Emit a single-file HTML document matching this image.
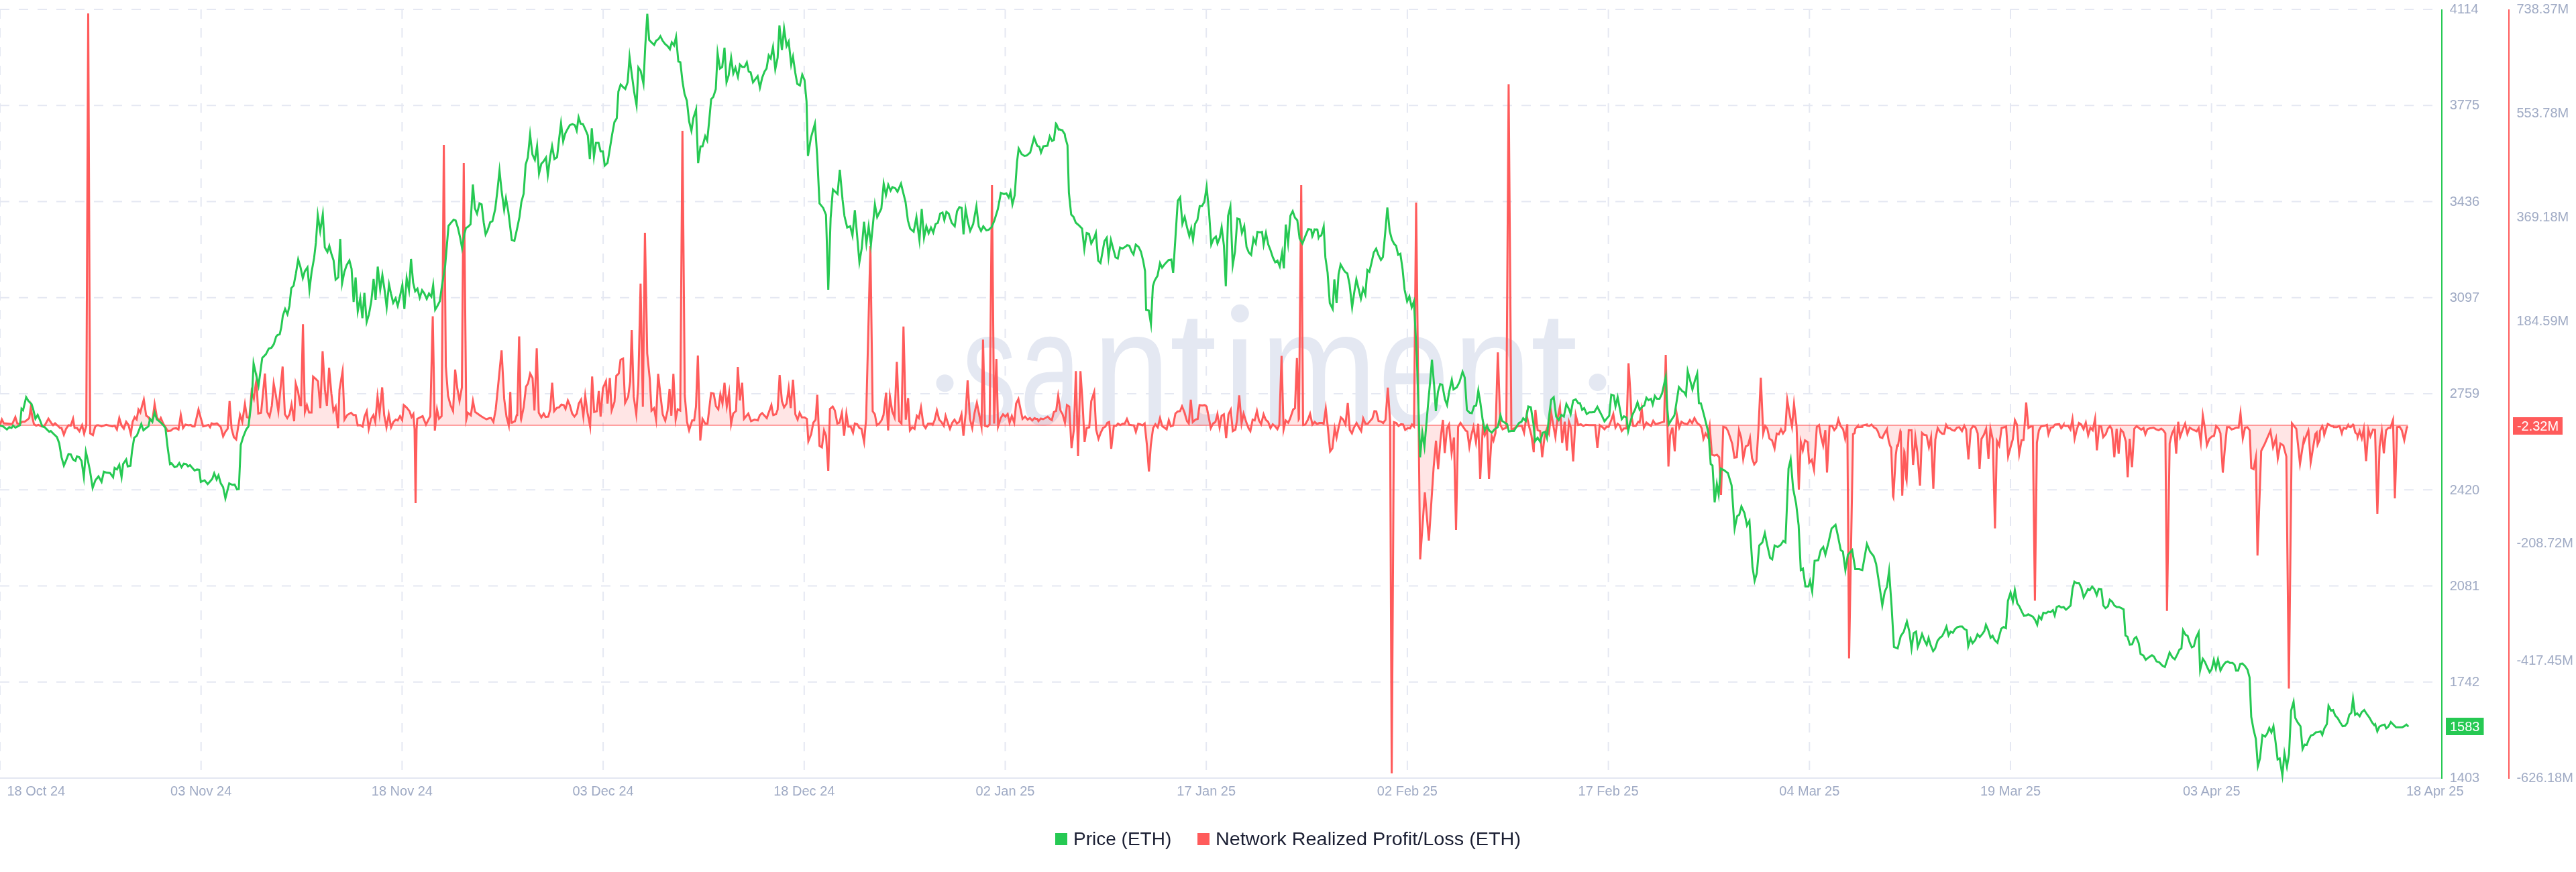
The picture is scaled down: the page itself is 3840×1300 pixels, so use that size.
<!DOCTYPE html>
<html><head><meta charset="utf-8"><title>Chart</title>
<style>html,body{margin:0;padding:0;background:#fff;}body{width:3840px;height:1300px;overflow:hidden;position:relative;font-family:"Liberation Sans",sans-serif;}</style>
</head><body>
<svg width="3840" height="1300" viewBox="0 0 3840 1300" style="position:absolute;left:0;top:0;display:block;will-change:transform">
<line x1="0" y1="14.0" x2="3626" y2="14.0" stroke="#e5e8f2" stroke-width="2" stroke-dasharray="14 14"/>
<line x1="0" y1="157.2" x2="3626" y2="157.2" stroke="#e5e8f2" stroke-width="2" stroke-dasharray="14 14"/>
<line x1="0" y1="300.5" x2="3626" y2="300.5" stroke="#e5e8f2" stroke-width="2" stroke-dasharray="14 14"/>
<line x1="0" y1="443.8" x2="3626" y2="443.8" stroke="#e5e8f2" stroke-width="2" stroke-dasharray="14 14"/>
<line x1="0" y1="587.0" x2="3626" y2="587.0" stroke="#e5e8f2" stroke-width="2" stroke-dasharray="14 14"/>
<line x1="0" y1="730.2" x2="3626" y2="730.2" stroke="#e5e8f2" stroke-width="2" stroke-dasharray="14 14"/>
<line x1="0" y1="873.5" x2="3626" y2="873.5" stroke="#e5e8f2" stroke-width="2" stroke-dasharray="14 14"/>
<line x1="0" y1="1016.8" x2="3626" y2="1016.8" stroke="#e5e8f2" stroke-width="2" stroke-dasharray="14 14"/>
<line x1="0.0" y1="14" x2="0.0" y2="1148" stroke="#e5e8f2" stroke-width="2" stroke-dasharray="14 14"/>
<line x1="299.7" y1="14" x2="299.7" y2="1148" stroke="#e5e8f2" stroke-width="2" stroke-dasharray="14 14"/>
<line x1="599.4" y1="14" x2="599.4" y2="1148" stroke="#e5e8f2" stroke-width="2" stroke-dasharray="14 14"/>
<line x1="899.1" y1="14" x2="899.1" y2="1148" stroke="#e5e8f2" stroke-width="2" stroke-dasharray="14 14"/>
<line x1="1198.8" y1="14" x2="1198.8" y2="1148" stroke="#e5e8f2" stroke-width="2" stroke-dasharray="14 14"/>
<line x1="1498.5" y1="14" x2="1498.5" y2="1148" stroke="#e5e8f2" stroke-width="2" stroke-dasharray="14 14"/>
<line x1="1798.2" y1="14" x2="1798.2" y2="1148" stroke="#e5e8f2" stroke-width="2" stroke-dasharray="14 14"/>
<line x1="2097.9" y1="14" x2="2097.9" y2="1148" stroke="#e5e8f2" stroke-width="2" stroke-dasharray="14 14"/>
<line x1="2397.6" y1="14" x2="2397.6" y2="1148" stroke="#e5e8f2" stroke-width="2" stroke-dasharray="14 14"/>
<line x1="2697.3" y1="14" x2="2697.3" y2="1148" stroke="#e5e8f2" stroke-width="2" stroke-dasharray="14 14"/>
<line x1="2997.0" y1="14" x2="2997.0" y2="1148" stroke="#e5e8f2" stroke-width="2" stroke-dasharray="14 14"/>
<line x1="3296.7" y1="14" x2="3296.7" y2="1148" stroke="#e5e8f2" stroke-width="2" stroke-dasharray="14 14"/>
<text transform="translate(1434.06,633) scale(0.6692,1)" font-family="Liberation Sans" font-size="244" fill="#e4e8f2">s</text>
<text transform="translate(1520.38,633) scale(0.6678,1)" font-family="Liberation Sans" font-size="244" fill="#e4e8f2">a</text>
<text transform="translate(1629.29,633) scale(0.8461,1)" font-family="Liberation Sans" font-size="244" fill="#e4e8f2">n</text>
<text transform="translate(1743.35,633) scale(1.0432,1)" font-family="Liberation Sans" font-size="244" fill="#e4e8f2">t</text>
<text transform="translate(1878.74,633) scale(0.8551,1)" font-family="Liberation Sans" font-size="244" fill="#e4e8f2">m</text>
<text transform="translate(2054.83,633) scale(0.7782,1)" font-family="Liberation Sans" font-size="244" fill="#e4e8f2">e</text>
<text transform="translate(2166.37,633) scale(0.8596,1)" font-family="Liberation Sans" font-size="244" fill="#e4e8f2">n</text>
<text transform="translate(2281.25,633) scale(1.0432,1)" font-family="Liberation Sans" font-size="244" fill="#e4e8f2">t</text>
<rect x="1838" y="505.8" width="19.6" height="127.2" fill="#e4e8f2"/>
<circle cx="1848.4" cy="467.2" r="13.4" fill="#e4e8f2"/>
<circle cx="1408.5" cy="571.3" r="13" fill="#e4e8f2"/>
<circle cx="2381.5" cy="570" r="13" fill="#e4e8f2"/>
<rect x="0" y="1159" width="3641" height="2" fill="#e3e6f1"/>
<path d="M0.0,633.4 L2.8,625.4 L5.7,631.1 L11.5,631.6 L18.3,632.2 L22.9,621.9 L25.7,631.1 L28.7,632.2 L33.3,628.8 L36.7,628.8 L41.3,625.4 L43.6,623.1 L45.9,607.0 L48.2,621.9 L50.5,632.2 L53.9,634.5 L57.3,633.4 L61.9,635.7 L66.5,634.5 L72.2,624.2 L76.8,631.1 L79.1,633.9 L82.1,631.1 L86.0,634.5 L89.4,638.0 L91.7,638.0 L95.2,648.3 L98.6,639.1 L102.1,633.9 L105.5,634.5 L108.9,624.2 L111.2,638.0 L114.7,638.0 L118.4,643.0 L122.4,633.7 L125.4,646.6 L128.6,635.0 L131.5,20.0 L134.4,646.2 L138.5,648.6 L141.7,636.5 L144.5,634.0 L146.8,633.9 L151.4,635.7 L158.3,633.4 L162.8,634.5 L167.4,635.7 L170.9,634.5 L174.3,640.3 L177.8,623.1 L181.2,634.5 L184.6,639.1 L188.1,628.8 L191.5,633.4 L195.0,647.2 L197.7,628.8 L200.7,621.9 L203.7,625.4 L206.4,610.5 L209.2,615.0 L211.5,605.9 L214.4,595.6 L217.9,619.6 L221.3,621.9 L223.6,626.5 L227.1,627.7 L230.5,602.4 L233.9,621.9 L237.4,627.7 L239.7,623.1 L243.1,631.1 L246.6,636.8 L250.0,642.6 L254.6,642.1 L258.0,639.1 L262.6,638.4 L266.1,640.3 L269.5,618.5 L272.9,638.0 L276.4,632.9 L281.0,633.9 L284.4,633.4 L286.7,635.7 L290.1,635.7 L295.9,610.5 L299.3,623.1 L302.8,635.7 L307.3,634.5 L310.8,633.4 L313.1,636.8 L315.4,631.1 L318.8,632.2 L323.4,631.1 L325.7,633.4 L329.1,636.8 L332.6,650.6 L336.0,643.7 L339.4,639.1 L342.2,597.8 L345.2,639.1 L348.6,651.7 L352.1,655.2 L355.5,633.4 L357.8,618.5 L361.2,628.8 L365.1,602.4 L368.1,621.9 L371.6,623.1 L375.0,584.1 L378.4,594.4 L381.2,572.6 L382.3,567.2 L384.9,615.0 L385.0,616.5 L389.2,615.3 L394.9,556.8 L398.3,614.2 L401.8,621.1 L405.2,605.0 L408.0,571.7 L411.0,587.8 L414.9,613.0 L421.3,546.5 L424.7,617.6 L428.2,623.3 L431.6,617.6 L434.6,602.7 L438.5,627.9 L440.8,571.7 L444.2,583.2 L447.7,603.9 L448.8,603.9 L451.6,483.4 L454.5,614.2 L457.5,603.9 L460.7,614.9 L464.4,614.9 L466.7,561.4 L470.6,564.9 L474.0,568.3 L477.5,608.4 L480.9,523.6 L484.4,580.9 L487.3,605.0 L490.6,548.3 L494.0,586.7 L497.0,613.0 L500.4,606.1 L503.9,638.3 L506.1,580.9 L510.7,553.4 L513.5,625.6 L517.6,618.8 L523.3,615.3 L526.8,618.8 L530.2,618.8 L533.2,634.1 L537.1,633.7 L540.6,636.0 L543.3,621.1 L546.7,613.0 L549.7,639.4 L553.2,624.5 L556.6,618.8 L559.4,629.1 L562.8,591.2 L565.8,616.5 L569.7,577.5 L572.7,618.8 L576.1,637.1 L579.5,617.6 L583.0,637.1 L586.4,629.1 L589.9,625.6 L592.8,626.8 L596.3,620.4 L599.5,626.3 L602.0,603.9 L605.9,607.3 L610.5,613.0 L613.5,621.7 L616.2,617.2 L618.0,640.0 L619.5,750.0 L621.0,640.0 L622.0,624.5 L630.0,620.4 L635.0,633.0 L641.4,620.4 L645.1,471.5 L648.2,641.9 L651.5,610.3 L654.5,624.2 L658.3,620.4 L661.6,216.0 L664.6,546.0 L667.9,590.2 L671.6,604.0 L675.4,612.9 L678.5,551.0 L681.7,578.8 L685.0,597.7 L688.5,577.5 L691.3,243.0 L695.1,625.5 L697.6,615.4 L701.9,619.2 L705.0,597.7 L708.2,614.1 L717.2,620.4 L721.7,623.3 L725.2,625.0 L729.8,623.3 L732.1,623.3 L735.5,629.1 L738.9,610.7 L742.4,576.3 L747.7,522.4 L751.6,594.7 L755.0,621.1 L758.4,634.1 L760.7,584.4 L762.3,630.2 L763.5,630.2 L766.9,627.9 L767.6,627.9 L770.3,618.8 L771.1,618.8 L773.8,502.9 L774.0,502.9 L776.5,624.5 L776.8,625.6 L780.6,607.3 L784.1,576.3 L787.1,571.7 L790.3,556.8 L793.9,563.7 L796.7,611.9 L800.1,519.4 L803.1,615.3 L807.0,622.2 L810.5,616.5 L813.2,621.7 L817.3,621.1 L820.1,610.7 L823.1,570.6 L826.1,613.0 L830.0,608.0 L833.4,607.3 L836.8,603.2 L840.3,603.9 L843.0,609.6 L846.5,597.0 L849.4,603.9 L852.9,616.5 L856.3,621.1 L859.8,616.5 L862.8,601.6 L866.2,595.8 L869.6,621.1 L872.4,590.1 L875.8,615.3 L879.7,636.0 L882.7,561.4 L885.7,614.2 L889.6,613.0 L892.6,582.8 L895.3,621.1 L898.8,578.6 L903.3,568.3 L905.6,601.6 L909.1,563.7 L911.8,611.9 L916.0,599.3 L918.7,560.3 L922.4,556.8 L925.0,536.4 L928.8,534.5 L931.8,600.8 L936.4,591.4 L939.4,568.6 L941.7,492.1 L944.7,591.4 L948.5,617.9 L951.5,572.4 L954.9,422.8 L958.3,606.5 L961.4,347.0 L964.8,527.0 L968.6,564.8 L971.2,612.2 L975.0,608.4 L978.0,625.5 L981.1,557.3 L984.8,591.4 L987.9,617.9 L991.7,627.3 L995.1,612.2 L998.1,580.0 L1000.8,619.8 L1003.8,557.3 L1007.2,625.5 L1010.2,610.3 L1014.0,612.2 L1017.3,195.0 L1020.8,590.0 L1024.2,629.2 L1027.2,641.7 L1031.8,626.8 L1034.8,626.8 L1037.5,606.1 L1040.3,530.0 L1043.9,656.6 L1047.2,624.5 L1051.3,631.4 L1054.7,631.4 L1060.0,586.0 L1063.9,586.7 L1067.3,605.7 L1070.8,610.3 L1073.8,587.8 L1077.0,601.6 L1080.0,570.6 L1083.4,606.1 L1086.8,585.5 L1089.8,632.5 L1093.0,616.5 L1097.2,612.6 L1099.9,547.0 L1102.9,597.0 L1106.3,570.6 L1109.1,624.5 L1115.5,616.5 L1119.6,627.9 L1124.7,625.6 L1129.7,626.8 L1132.7,618.8 L1136.1,615.8 L1143.0,623.3 L1149.9,603.9 L1152.3,617.6 L1152.7,618.8 L1156.4,617.6 L1156.8,617.6 L1159.2,610.7 L1162.2,559.1 L1165.6,598.1 L1168.8,607.3 L1172.5,601.6 L1175.7,578.6 L1178.7,608.4 L1182.1,566.0 L1185.6,617.6 L1189.0,625.6 L1192.0,615.3 L1195.4,622.2 L1199.3,622.2 L1202.8,624.5 L1205.0,657.8 L1209.2,647.4 L1212.4,630.2 L1215.8,625.6 L1218.3,588.5 L1221.6,664.6 L1225.2,666.9 L1228.4,641.7 L1231.4,649.7 L1234.7,702.0 L1237.2,609.6 L1241.3,606.1 L1244.5,611.9 L1248.2,631.4 L1251.4,630.2 L1255.0,615.3 L1258.3,649.7 L1261.7,616.5 L1264.7,636.0 L1268.1,636.0 L1271.6,645.1 L1274.3,631.4 L1278.0,632.5 L1281.2,638.3 L1284.2,639.4 L1288.1,658.9 L1291.1,624.5 L1297.5,367.0 L1300.9,613.0 L1304.1,617.6 L1307.1,633.7 L1310.6,631.4 L1314.0,626.8 L1317.0,618.8 L1320.9,585.5 L1323.9,641.7 L1326.6,591.2 L1330.0,613.0 L1333.5,622.2 L1336.9,539.6 L1340.4,627.9 L1343.8,631.4 L1346.8,486.9 L1350.2,625.6 L1353.7,593.5 L1356.4,641.7 L1359.9,637.1 L1363.3,639.4 L1366.7,619.9 L1369.7,623.3 L1372.9,607.3 L1376.6,633.7 L1379.8,638.3 L1383.5,631.4 L1388.5,631.4 L1390.4,633.2 L1393.1,626.8 L1396.6,611.9 L1400.0,625.6 L1403.4,629.1 L1406.9,634.8 L1409.6,619.9 L1413.3,631.4 L1416.1,639.4 L1419.5,630.2 L1422.9,625.6 L1426.4,631.4 L1429.8,629.1 L1433.3,617.6 L1436.2,649.7 L1439.4,617.6 L1442.4,567.2 L1445.9,624.5 L1449.3,638.3 L1452.8,615.3 L1456.2,600.4 L1459.6,617.6 L1463.1,636.0 L1465.4,506.4 L1468.3,634.8 L1472.2,636.0 L1475.2,632.5 L1478.7,276.0 L1481.9,631.4 L1485.3,535.0 L1487.8,636.0 L1491.7,623.3 L1495.2,617.6 L1498.6,621.1 L1502.1,617.2 L1505.0,630.2 L1508.3,619.9 L1511.9,630.2 L1514.7,601.6 L1518.1,594.7 L1524.3,624.5 L1528.0,621.1 L1531.9,625.6 L1535.3,623.3 L1538.8,626.8 L1542.2,623.3 L1542.3,623.3 L1544.1,624.5 L1546.3,624.5 L1548.0,627.9 L1551.5,624.0 L1554.9,625.0 L1558.3,623.3 L1561.8,621.1 L1565.2,624.5 L1568.0,626.3 L1571.0,614.2 L1574.4,612.6 L1577.4,590.1 L1580.8,611.9 L1584.0,617.6 L1587.5,630.2 L1590.5,603.9 L1593.9,606.1 L1597.3,668.1 L1600.8,640.6 L1603.8,553.4 L1607.0,680.0 L1610.6,553.4 L1613.4,594.7 L1616.8,658.9 L1619.8,638.3 L1623.7,637.1 L1626.7,598.1 L1631.1,584.4 L1634.0,640.6 L1637.5,654.3 L1640.9,645.1 L1644.4,637.8 L1647.8,636.0 L1650.8,630.2 L1653.5,629.1 L1656.5,669.2 L1660.4,634.8 L1663.9,634.8 L1666.6,631.4 L1670.0,633.7 L1673.5,631.8 L1676.5,631.8 L1679.9,624.5 L1683.3,633.2 L1686.8,633.7 L1690.2,634.1 L1693.2,644.0 L1696.7,631.8 L1699.4,632.5 L1703.3,634.1 L1706.3,631.4 L1709.7,663.5 L1712.7,703.0 L1715.5,663.5 L1718.9,638.3 L1722.3,632.5 L1725.8,637.1 L1729.2,623.3 L1732.7,635.5 L1736.1,637.8 L1739.1,640.1 L1742.3,626.3 L1745.3,635.5 L1748.7,634.4 L1752.2,616.5 L1755.6,613.5 L1759.0,613.0 L1762.0,605.7 L1765.9,615.3 L1769.4,627.9 L1772.1,631.4 L1775.1,595.8 L1778.1,629.1 L1782.0,625.6 L1785.4,624.5 L1788.2,603.9 L1792.3,604.5 L1795.7,603.9 L1798.7,606.1 L1801.9,622.2 L1804.9,638.3 L1808.3,631.4 L1811.8,629.1 L1814.8,617.2 L1818.0,637.1 L1821.0,619.9 L1824.4,617.6 L1827.8,653.2 L1831.3,617.6 L1834.7,610.7 L1837.7,642.8 L1841.6,640.6 L1843.9,626.8 L1847.3,589.4 L1850.8,631.4 L1853.8,616.5 L1857.7,629.1 L1861.1,638.3 L1863.9,642.8 L1867.3,625.6 L1870.3,626.8 L1873.7,612.6 L1876.7,626.8 L1879.9,632.5 L1883.6,617.6 L1886.8,625.6 L1890.5,629.1 L1893.9,638.3 L1897.3,632.5 L1901.2,636.0 L1904.2,639.9 L1907.0,633.7 L1910.4,530.5 L1913.4,640.6 L1916.6,626.8 L1920.3,630.2 L1923.0,624.5 L1927.6,610.7 L1930.4,608.4 L1933.3,533.9 L1936.0,625.0 L1936.3,624.5 L1939.7,276.0 L1942.5,633.0 L1942.6,633.6 L1945.6,632.9 L1949.5,626.0 L1952.9,616.8 L1956.4,632.9 L1959.8,629.0 L1963.3,632.2 L1966.7,630.6 L1971.3,630.6 L1973.1,631.7 L1976.3,608.8 L1979.3,636.3 L1982.8,673.0 L1986.2,668.4 L1989.6,638.6 L1992.4,652.4 L1995.4,637.5 L1998.8,622.1 L2002.2,625.3 L2005.7,632.9 L2009.1,600.8 L2012.1,640.9 L2015.3,646.0 L2018.3,637.5 L2022.2,630.6 L2025.9,637.5 L2029.1,642.8 L2032.1,623.7 L2035.5,631.7 L2038.9,631.7 L2042.4,627.6 L2045.8,623.7 L2048.8,612.9 L2051.6,613.4 L2055.0,627.6 L2058.4,628.3 L2061.9,630.6 L2065.3,626.0 L2068.8,577.8 L2072.2,628.3 L2074.6,1153.0 L2077.9,629.4 L2081.4,630.6 L2084.8,635.2 L2088.3,632.4 L2091.7,632.9 L2094.7,640.9 L2098.6,638.2 L2102.0,638.6 L2104.8,632.9 L2107.8,635.9 L2111.0,302.0 L2117.0,834.0 L2124.0,734.0 L2130.0,806.0 L2137.0,698.0 L2140.6,657.0 L2143.8,699.4 L2147.4,654.7 L2150.9,626.0 L2153.6,675.3 L2157.1,638.6 L2160.0,632.9 L2163.9,675.3 L2167.4,652.4 L2170.5,790.0 L2173.6,636.3 L2177.2,630.6 L2181.1,636.3 L2185.0,642.1 L2187.3,643.2 L2190.3,666.1 L2193.3,648.9 L2196.5,636.3 L2200.2,659.3 L2203.6,631.7 L2206.5,714.0 L2210.3,638.6 L2213.3,648.9 L2216.7,638.6 L2219.6,714.0 L2223.6,650.1 L2226.3,657.0 L2229.3,645.5 L2232.8,525.2 L2236.6,633.7 L2239.9,640.0 L2245.4,637.5 L2248.9,125.5 L2253.0,641.3 L2256.8,638.8 L2260.6,636.2 L2264.3,635.0 L2268.6,635.0 L2271.9,645.1 L2275.7,618.6 L2279.5,636.2 L2282.8,648.9 L2286.3,674.1 L2288.8,611.0 L2292.1,641.3 L2295.9,642.6 L2298.9,681.7 L2302.9,647.6 L2306.0,638.8 L2309.0,646.3 L2312.3,614.8 L2316.1,637.5 L2318.6,651.4 L2321.6,624.9 L2325.4,606.0 L2328.7,660.2 L2332.5,628.7 L2335.7,671.6 L2338.8,628.7 L2341.8,637.5 L2345.1,688.0 L2348.9,618.6 L2352.6,633.7 L2356.4,632.5 L2360.2,635.0 L2364.0,633.2 L2369.0,633.7 L2374.1,633.7 L2377.9,633.7 L2381.2,667.8 L2384.7,633.7 L2388.0,636.2 L2391.8,640.0 L2394.8,636.2 L2398.1,636.2 L2401.9,626.2 L2404.9,617.3 L2408.2,637.5 L2411.4,631.7 L2414.5,634.2 L2417.5,642.6 L2420.8,638.8 L2424.6,638.8 L2427.6,541.6 L2430.1,580.7 L2432.1,621.1 L2434.7,635.0 L2438.4,635.0 L2442.2,628.7 L2444.2,629.9 L2447.3,609.8 L2450.5,637.5 L2454.3,629.9 L2457.4,632.5 L2461.1,635.0 L2464.4,627.4 L2468.0,632.5 L2472.0,631.2 L2476.3,629.9 L2480.6,628.7 L2483.1,529.0 L2487.1,695.5 L2489.6,648.9 L2490.7,645.1 L2492.6,638.8 L2493.2,638.8 L2496.4,671.6 L2496.5,671.6 L2499.7,618.6 L2503.2,637.5 L2506.5,628.7 L2510.3,631.2 L2515.3,632.5 L2519.1,626.2 L2522.4,630.7 L2525.9,623.1 L2530.0,630.7 L2534.2,633.7 L2536.8,638.8 L2539.3,654.4 L2542.6,646.3 L2545.6,651.4 L2548.6,635.0 L2551.9,677.9 L2555.7,679.1 L2559.5,677.9 L2562.8,681.7 L2565.5,738.0 L2568.8,636.2 L2572.9,637.5 L2575.9,642.6 L2579.7,653.9 L2582.2,661.5 L2585.5,682.2 L2589.0,681.7 L2592.3,641.3 L2595.6,652.6 L2598.6,684.2 L2602.4,665.3 L2605.7,664.0 L2608.7,652.6 L2611.7,682.9 L2615.0,692.3 L2618.3,688.0 L2621.3,640.0 L2624.8,563.1 L2628.4,646.3 L2631.4,635.0 L2634.4,638.8 L2637.7,653.9 L2641.5,656.4 L2645.3,668.5 L2648.5,646.3 L2651.6,647.6 L2654.9,640.0 L2657.9,646.3 L2661.2,641.3 L2664.2,595.9 L2668.0,618.6 L2671.3,636.2 L2674.3,602.2 L2678.1,635.0 L2681.5,730.0 L2684.4,659.0 L2687.4,671.6 L2690.7,656.4 L2694.5,659.0 L2697.0,689.7 L2700.8,685.4 L2704.1,700.6 L2708.3,636.2 L2711.6,633.7 L2714.7,651.4 L2717.7,664.0 L2721.0,641.3 L2723.5,704.4 L2727.3,635.0 L2731.1,635.0 L2734.3,641.3 L2737.4,637.5 L2740.4,624.9 L2743.7,635.0 L2747.5,640.0 L2750.5,653.9 L2753.8,632.5 L2756.4,981.5 L2762.3,647.2 L2764.6,645.8 L2765.7,639.1 L2769.2,635.2 L2769.2,636.7 L2776.1,636.4 L2776.1,634.4 L2782.9,632.9 L2783.0,634.4 L2786.4,635.2 L2789.8,632.9 L2789.9,633.0 L2793.9,637.5 L2796.7,639.0 L2799.0,642.6 L2802.2,651.3 L2802.4,651.8 L2805.9,652.9 L2805.9,652.7 L2809.3,646.0 L2812.8,639.8 L2812.8,641.3 L2815.5,657.5 L2817.4,664.2 L2819.2,667.4 L2821.9,739.8 L2822.4,741.2 L2826.1,678.1 L2827.9,664.2 L2829.3,664.4 L2832.9,642.6 L2833.4,643.6 L2835.7,738.9 L2835.7,737.5 L2838.7,672.9 L2838.9,673.4 L2841.7,714.6 L2842.1,716.4 L2845.3,641.4 L2846.2,641.3 L2848.3,641.4 L2849.5,641.3 L2851.8,693.0 L2854.0,668.8 L2855.2,651.8 L2858.2,674.7 L2862.1,724.0 L2865.1,645.3 L2868.3,648.3 L2871.9,649.0 L2875.4,666.7 L2878.6,651.8 L2882.0,728.6 L2885.0,655.2 L2888.5,638.0 L2891.9,643.7 L2895.3,646.7 L2898.1,646.7 L2901.1,633.4 L2904.1,638.5 L2906.8,638.5 L2910.3,641.4 L2913.7,642.1 L2917.1,637.5 L2920.6,636.8 L2924.7,642.6 L2928.1,634.6 L2930.9,640.3 L2934.3,685.0 L2937.8,640.3 L2941.2,635.2 L2944.7,636.8 L2948.1,646.0 L2950.9,698.8 L2953.8,654.1 L2957.3,648.3 L2960.7,639.1 L2964.2,683.9 L2967.1,639.1 L2970.6,655.2 L2973.9,787.6 L2976.8,657.5 L2980.2,664.4 L2983.7,638.0 L2988.2,636.8 L2990.5,635.7 L2993.5,680.4 L2997.4,665.5 L3000.4,655.2 L3003.6,626.5 L3006.6,632.9 L3010.0,677.0 L3013.5,656.3 L3016.5,655.9 L3020.4,600.1 L3023.8,638.0 L3027.2,635.7 L3030.2,635.7 L3033.4,895.5 L3036.4,659.8 L3039.4,641.4 L3042.6,635.7 L3048.6,634.6 L3051.3,633.4 L3053.6,647.6 L3057.1,637.5 L3060.5,636.8 L3062.8,633.4 L3063.4,632.9 L3069.2,632.3 L3069.7,632.3 L3072.6,638.5 L3073.1,638.0 L3076.1,633.4 L3076.1,633.9 L3079.5,635.2 L3082.9,634.6 L3086.4,640.3 L3089.4,624.7 L3092.6,654.1 L3095.6,641.4 L3099.0,630.7 L3102.4,632.9 L3105.9,639.8 L3109.3,630.0 L3112.8,649.0 L3116.2,637.5 L3119.6,641.4 L3123.1,624.2 L3125.8,671.3 L3129.3,635.2 L3132.3,635.7 L3135.2,651.8 L3139.1,647.2 L3142.1,639.1 L3145.3,635.2 L3148.3,640.3 L3151.8,681.6 L3155.2,639.1 L3158.2,676.5 L3161.4,640.3 L3165.1,644.4 L3169.0,658.6 L3171.7,711.4 L3174.7,654.1 L3178.1,696.5 L3181.6,639.1 L3185.0,635.2 L3188.5,638.0 L3191.9,640.7 L3195.3,638.0 L3198.1,647.6 L3201.1,639.8 L3204.5,638.5 L3210.3,637.5 L3213.7,639.8 L3217.8,641.4 L3221.7,639.1 L3224.7,641.4 L3227.9,646.0 L3230.3,910.8 L3234.3,660.9 L3237.8,646.0 L3241.2,639.1 L3244.0,676.5 L3247.0,628.8 L3249.9,651.3 L3253.8,640.3 L3257.3,631.6 L3260.7,646.7 L3264.2,637.5 L3267.6,639.8 L3271.0,641.4 L3274.5,643.0 L3277.5,638.0 L3280.7,659.8 L3283.7,619.2 L3287.1,640.3 L3289.8,663.7 L3293.5,654.1 L3297.4,650.6 L3300.4,649.9 L3303.6,635.2 L3307.3,639.1 L3310.0,646.0 L3313.5,704.5 L3316.5,669.6 L3319.7,636.8 L3323.3,636.8 L3326.6,640.3 L3330.2,639.1 L3333.4,637.5 L3337.1,637.5 L3339.9,616.2 L3343.3,653.6 L3346.7,637.5 L3350.2,636.8 L3353.6,641.4 L3355.9,697.6 L3359.4,699.5 L3362.8,681.6 L3365.2,828.2 L3370.7,672.3 L3376.2,661.3 L3384.5,642.0 L3388.4,666.8 L3392.8,653.0 L3395.5,683.3 L3399.4,661.3 L3403.8,664.1 L3408.2,680.6 L3412.0,1026.5 L3416.5,631.0 L3423.1,639.3 L3428.6,691.6 L3434.1,655.8 L3434.9,658.6 L3437.6,650.6 L3441.1,641.4 L3441.2,642.0 L3444.5,689.6 L3445.1,686.1 L3448.0,667.8 L3451.4,647.2 L3453.4,644.8 L3454.8,662.8 L3457.8,655.8 L3458.3,642.6 L3461.7,635.2 L3463.3,639.3 L3464.7,648.3 L3467.9,638.0 L3469.9,632.1 L3471.6,632.9 L3475.5,635.2 L3478.1,635.4 L3478.9,636.8 L3483.5,636.8 L3486.4,635.4 L3487.6,635.2 L3490.9,646.0 L3491.9,642.0 L3493.8,638.0 L3497.3,639.1 L3500.2,633.8 L3500.7,635.7 L3504.2,636.8 L3507.6,632.9 L3508.4,633.8 L3511.0,644.9 L3513.9,647.5 L3514.5,651.8 L3517.5,642.6 L3520.7,653.6 L3523.7,639.1 L3527.1,687.3 L3530.5,640.3 L3533.5,650.6 L3537.4,640.3 L3540.4,640.7 L3543.9,766.0 L3547.3,665.5 L3550.5,642.6 L3553.5,675.8 L3556.9,641.4 L3560.4,638.0 L3563.3,638.0 L3567.2,626.1 L3570.0,743.0 L3573.4,636.8 L3577.1,636.2 L3580.3,641.4 L3584.0,656.3 L3587.9,636.8 L3589.5,636.2 L3589.5,634 L0.0,634 Z" fill="#ff5b5b" fill-opacity="0.16" stroke="none"/>
<line x1="0" y1="634" x2="3589.5" y2="634" stroke="#ff5b5b" stroke-opacity="0.75" stroke-width="1.5"/>
<path d="M0.0,633.4 L2.8,625.4 L5.7,631.1 L11.5,631.6 L18.3,632.2 L22.9,621.9 L25.7,631.1 L28.7,632.2 L33.3,628.8 L36.7,628.8 L41.3,625.4 L43.6,623.1 L45.9,607.0 L48.2,621.9 L50.5,632.2 L53.9,634.5 L57.3,633.4 L61.9,635.7 L66.5,634.5 L72.2,624.2 L76.8,631.1 L79.1,633.9 L82.1,631.1 L86.0,634.5 L89.4,638.0 L91.7,638.0 L95.2,648.3 L98.6,639.1 L102.1,633.9 L105.5,634.5 L108.9,624.2 L111.2,638.0 L114.7,638.0 L118.4,643.0 L122.4,633.7 L125.4,646.6 L128.6,635.0 L131.5,20.0 L134.4,646.2 L138.5,648.6 L141.7,636.5 L144.5,634.0 L146.8,633.9 L151.4,635.7 L158.3,633.4 L162.8,634.5 L167.4,635.7 L170.9,634.5 L174.3,640.3 L177.8,623.1 L181.2,634.5 L184.6,639.1 L188.1,628.8 L191.5,633.4 L195.0,647.2 L197.7,628.8 L200.7,621.9 L203.7,625.4 L206.4,610.5 L209.2,615.0 L211.5,605.9 L214.4,595.6 L217.9,619.6 L221.3,621.9 L223.6,626.5 L227.1,627.7 L230.5,602.4 L233.9,621.9 L237.4,627.7 L239.7,623.1 L243.1,631.1 L246.6,636.8 L250.0,642.6 L254.6,642.1 L258.0,639.1 L262.6,638.4 L266.1,640.3 L269.5,618.5 L272.9,638.0 L276.4,632.9 L281.0,633.9 L284.4,633.4 L286.7,635.7 L290.1,635.7 L295.9,610.5 L299.3,623.1 L302.8,635.7 L307.3,634.5 L310.8,633.4 L313.1,636.8 L315.4,631.1 L318.8,632.2 L323.4,631.1 L325.7,633.4 L329.1,636.8 L332.6,650.6 L336.0,643.7 L339.4,639.1 L342.2,597.8 L345.2,639.1 L348.6,651.7 L352.1,655.2 L355.5,633.4 L357.8,618.5 L361.2,628.8 L365.1,602.4 L368.1,621.9 L371.6,623.1 L375.0,584.1 L378.4,594.4 L381.2,572.6 L382.3,567.2 L384.9,615.0 L385.0,616.5 L389.2,615.3 L394.9,556.8 L398.3,614.2 L401.8,621.1 L405.2,605.0 L408.0,571.7 L411.0,587.8 L414.9,613.0 L421.3,546.5 L424.7,617.6 L428.2,623.3 L431.6,617.6 L434.6,602.7 L438.5,627.9 L440.8,571.7 L444.2,583.2 L447.7,603.9 L448.8,603.9 L451.6,483.4 L454.5,614.2 L457.5,603.9 L460.7,614.9 L464.4,614.9 L466.7,561.4 L470.6,564.9 L474.0,568.3 L477.5,608.4 L480.9,523.6 L484.4,580.9 L487.3,605.0 L490.6,548.3 L494.0,586.7 L497.0,613.0 L500.4,606.1 L503.9,638.3 L506.1,580.9 L510.7,553.4 L513.5,625.6 L517.6,618.8 L523.3,615.3 L526.8,618.8 L530.2,618.8 L533.2,634.1 L537.1,633.7 L540.6,636.0 L543.3,621.1 L546.7,613.0 L549.7,639.4 L553.2,624.5 L556.6,618.8 L559.4,629.1 L562.8,591.2 L565.8,616.5 L569.7,577.5 L572.7,618.8 L576.1,637.1 L579.5,617.6 L583.0,637.1 L586.4,629.1 L589.9,625.6 L592.8,626.8 L596.3,620.4 L599.5,626.3 L602.0,603.9 L605.9,607.3 L610.5,613.0 L613.5,621.7 L616.2,617.2 L618.0,640.0 L619.5,750.0 L621.0,640.0 L622.0,624.5 L630.0,620.4 L635.0,633.0 L641.4,620.4 L645.1,471.5 L648.2,641.9 L651.5,610.3 L654.5,624.2 L658.3,620.4 L661.6,216.0 L664.6,546.0 L667.9,590.2 L671.6,604.0 L675.4,612.9 L678.5,551.0 L681.7,578.8 L685.0,597.7 L688.5,577.5 L691.3,243.0 L695.1,625.5 L697.6,615.4 L701.9,619.2 L705.0,597.7 L708.2,614.1 L717.2,620.4 L721.7,623.3 L725.2,625.0 L729.8,623.3 L732.1,623.3 L735.5,629.1 L738.9,610.7 L742.4,576.3 L747.7,522.4 L751.6,594.7 L755.0,621.1 L758.4,634.1 L760.7,584.4 L762.3,630.2 L763.5,630.2 L766.9,627.9 L767.6,627.9 L770.3,618.8 L771.1,618.8 L773.8,502.9 L774.0,502.9 L776.5,624.5 L776.8,625.6 L780.6,607.3 L784.1,576.3 L787.1,571.7 L790.3,556.8 L793.9,563.7 L796.7,611.9 L800.1,519.4 L803.1,615.3 L807.0,622.2 L810.5,616.5 L813.2,621.7 L817.3,621.1 L820.1,610.7 L823.1,570.6 L826.1,613.0 L830.0,608.0 L833.4,607.3 L836.8,603.2 L840.3,603.9 L843.0,609.6 L846.5,597.0 L849.4,603.9 L852.9,616.5 L856.3,621.1 L859.8,616.5 L862.8,601.6 L866.2,595.8 L869.6,621.1 L872.4,590.1 L875.8,615.3 L879.7,636.0 L882.7,561.4 L885.7,614.2 L889.6,613.0 L892.6,582.8 L895.3,621.1 L898.8,578.6 L903.3,568.3 L905.6,601.6 L909.1,563.7 L911.8,611.9 L916.0,599.3 L918.7,560.3 L922.4,556.8 L925.0,536.4 L928.8,534.5 L931.8,600.8 L936.4,591.4 L939.4,568.6 L941.7,492.1 L944.7,591.4 L948.5,617.9 L951.5,572.4 L954.9,422.8 L958.3,606.5 L961.4,347.0 L964.8,527.0 L968.6,564.8 L971.2,612.2 L975.0,608.4 L978.0,625.5 L981.1,557.3 L984.8,591.4 L987.9,617.9 L991.7,627.3 L995.1,612.2 L998.1,580.0 L1000.8,619.8 L1003.8,557.3 L1007.2,625.5 L1010.2,610.3 L1014.0,612.2 L1017.3,195.0 L1020.8,590.0 L1024.2,629.2 L1027.2,641.7 L1031.8,626.8 L1034.8,626.8 L1037.5,606.1 L1040.3,530.0 L1043.9,656.6 L1047.2,624.5 L1051.3,631.4 L1054.7,631.4 L1060.0,586.0 L1063.9,586.7 L1067.3,605.7 L1070.8,610.3 L1073.8,587.8 L1077.0,601.6 L1080.0,570.6 L1083.4,606.1 L1086.8,585.5 L1089.8,632.5 L1093.0,616.5 L1097.2,612.6 L1099.9,547.0 L1102.9,597.0 L1106.3,570.6 L1109.1,624.5 L1115.5,616.5 L1119.6,627.9 L1124.7,625.6 L1129.7,626.8 L1132.7,618.8 L1136.1,615.8 L1143.0,623.3 L1149.9,603.9 L1152.3,617.6 L1152.7,618.8 L1156.4,617.6 L1156.8,617.6 L1159.2,610.7 L1162.2,559.1 L1165.6,598.1 L1168.8,607.3 L1172.5,601.6 L1175.7,578.6 L1178.7,608.4 L1182.1,566.0 L1185.6,617.6 L1189.0,625.6 L1192.0,615.3 L1195.4,622.2 L1199.3,622.2 L1202.8,624.5 L1205.0,657.8 L1209.2,647.4 L1212.4,630.2 L1215.8,625.6 L1218.3,588.5 L1221.6,664.6 L1225.2,666.9 L1228.4,641.7 L1231.4,649.7 L1234.7,702.0 L1237.2,609.6 L1241.3,606.1 L1244.5,611.9 L1248.2,631.4 L1251.4,630.2 L1255.0,615.3 L1258.3,649.7 L1261.7,616.5 L1264.7,636.0 L1268.1,636.0 L1271.6,645.1 L1274.3,631.4 L1278.0,632.5 L1281.2,638.3 L1284.2,639.4 L1288.1,658.9 L1291.1,624.5 L1297.5,367.0 L1300.9,613.0 L1304.1,617.6 L1307.1,633.7 L1310.6,631.4 L1314.0,626.8 L1317.0,618.8 L1320.9,585.5 L1323.9,641.7 L1326.6,591.2 L1330.0,613.0 L1333.5,622.2 L1336.9,539.6 L1340.4,627.9 L1343.8,631.4 L1346.8,486.9 L1350.2,625.6 L1353.7,593.5 L1356.4,641.7 L1359.9,637.1 L1363.3,639.4 L1366.7,619.9 L1369.7,623.3 L1372.9,607.3 L1376.6,633.7 L1379.8,638.3 L1383.5,631.4 L1388.5,631.4 L1390.4,633.2 L1393.1,626.8 L1396.6,611.9 L1400.0,625.6 L1403.4,629.1 L1406.9,634.8 L1409.6,619.9 L1413.3,631.4 L1416.1,639.4 L1419.5,630.2 L1422.9,625.6 L1426.4,631.4 L1429.8,629.1 L1433.3,617.6 L1436.2,649.7 L1439.4,617.6 L1442.4,567.2 L1445.9,624.5 L1449.3,638.3 L1452.8,615.3 L1456.2,600.4 L1459.6,617.6 L1463.1,636.0 L1465.4,506.4 L1468.3,634.8 L1472.2,636.0 L1475.2,632.5 L1478.7,276.0 L1481.9,631.4 L1485.3,535.0 L1487.8,636.0 L1491.7,623.3 L1495.2,617.6 L1498.6,621.1 L1502.1,617.2 L1505.0,630.2 L1508.3,619.9 L1511.9,630.2 L1514.7,601.6 L1518.1,594.7 L1524.3,624.5 L1528.0,621.1 L1531.9,625.6 L1535.3,623.3 L1538.8,626.8 L1542.2,623.3 L1542.3,623.3 L1544.1,624.5 L1546.3,624.5 L1548.0,627.9 L1551.5,624.0 L1554.9,625.0 L1558.3,623.3 L1561.8,621.1 L1565.2,624.5 L1568.0,626.3 L1571.0,614.2 L1574.4,612.6 L1577.4,590.1 L1580.8,611.9 L1584.0,617.6 L1587.5,630.2 L1590.5,603.9 L1593.9,606.1 L1597.3,668.1 L1600.8,640.6 L1603.8,553.4 L1607.0,680.0 L1610.6,553.4 L1613.4,594.7 L1616.8,658.9 L1619.8,638.3 L1623.7,637.1 L1626.7,598.1 L1631.1,584.4 L1634.0,640.6 L1637.5,654.3 L1640.9,645.1 L1644.4,637.8 L1647.8,636.0 L1650.8,630.2 L1653.5,629.1 L1656.5,669.2 L1660.4,634.8 L1663.9,634.8 L1666.6,631.4 L1670.0,633.7 L1673.5,631.8 L1676.5,631.8 L1679.9,624.5 L1683.3,633.2 L1686.8,633.7 L1690.2,634.1 L1693.2,644.0 L1696.7,631.8 L1699.4,632.5 L1703.3,634.1 L1706.3,631.4 L1709.7,663.5 L1712.7,703.0 L1715.5,663.5 L1718.9,638.3 L1722.3,632.5 L1725.8,637.1 L1729.2,623.3 L1732.7,635.5 L1736.1,637.8 L1739.1,640.1 L1742.3,626.3 L1745.3,635.5 L1748.7,634.4 L1752.2,616.5 L1755.6,613.5 L1759.0,613.0 L1762.0,605.7 L1765.9,615.3 L1769.4,627.9 L1772.1,631.4 L1775.1,595.8 L1778.1,629.1 L1782.0,625.6 L1785.4,624.5 L1788.2,603.9 L1792.3,604.5 L1795.7,603.9 L1798.7,606.1 L1801.9,622.2 L1804.9,638.3 L1808.3,631.4 L1811.8,629.1 L1814.8,617.2 L1818.0,637.1 L1821.0,619.9 L1824.4,617.6 L1827.8,653.2 L1831.3,617.6 L1834.7,610.7 L1837.7,642.8 L1841.6,640.6 L1843.9,626.8 L1847.3,589.4 L1850.8,631.4 L1853.8,616.5 L1857.7,629.1 L1861.1,638.3 L1863.9,642.8 L1867.3,625.6 L1870.3,626.8 L1873.7,612.6 L1876.7,626.8 L1879.9,632.5 L1883.6,617.6 L1886.8,625.6 L1890.5,629.1 L1893.9,638.3 L1897.3,632.5 L1901.2,636.0 L1904.2,639.9 L1907.0,633.7 L1910.4,530.5 L1913.4,640.6 L1916.6,626.8 L1920.3,630.2 L1923.0,624.5 L1927.6,610.7 L1930.4,608.4 L1933.3,533.9 L1936.0,625.0 L1936.3,624.5 L1939.7,276.0 L1942.5,633.0 L1942.6,633.6 L1945.6,632.9 L1949.5,626.0 L1952.9,616.8 L1956.4,632.9 L1959.8,629.0 L1963.3,632.2 L1966.7,630.6 L1971.3,630.6 L1973.1,631.7 L1976.3,608.8 L1979.3,636.3 L1982.8,673.0 L1986.2,668.4 L1989.6,638.6 L1992.4,652.4 L1995.4,637.5 L1998.8,622.1 L2002.2,625.3 L2005.7,632.9 L2009.1,600.8 L2012.1,640.9 L2015.3,646.0 L2018.3,637.5 L2022.2,630.6 L2025.9,637.5 L2029.1,642.8 L2032.1,623.7 L2035.5,631.7 L2038.9,631.7 L2042.4,627.6 L2045.8,623.7 L2048.8,612.9 L2051.6,613.4 L2055.0,627.6 L2058.4,628.3 L2061.9,630.6 L2065.3,626.0 L2068.8,577.8 L2072.2,628.3 L2074.6,1153.0 L2077.9,629.4 L2081.4,630.6 L2084.8,635.2 L2088.3,632.4 L2091.7,632.9 L2094.7,640.9 L2098.6,638.2 L2102.0,638.6 L2104.8,632.9 L2107.8,635.9 L2111.0,302.0 L2117.0,834.0 L2124.0,734.0 L2130.0,806.0 L2137.0,698.0 L2140.6,657.0 L2143.8,699.4 L2147.4,654.7 L2150.9,626.0 L2153.6,675.3 L2157.1,638.6 L2160.0,632.9 L2163.9,675.3 L2167.4,652.4 L2170.5,790.0 L2173.6,636.3 L2177.2,630.6 L2181.1,636.3 L2185.0,642.1 L2187.3,643.2 L2190.3,666.1 L2193.3,648.9 L2196.5,636.3 L2200.2,659.3 L2203.6,631.7 L2206.5,714.0 L2210.3,638.6 L2213.3,648.9 L2216.7,638.6 L2219.6,714.0 L2223.6,650.1 L2226.3,657.0 L2229.3,645.5 L2232.8,525.2 L2236.6,633.7 L2239.9,640.0 L2245.4,637.5 L2248.9,125.5 L2253.0,641.3 L2256.8,638.8 L2260.6,636.2 L2264.3,635.0 L2268.6,635.0 L2271.9,645.1 L2275.7,618.6 L2279.5,636.2 L2282.8,648.9 L2286.3,674.1 L2288.8,611.0 L2292.1,641.3 L2295.9,642.6 L2298.9,681.7 L2302.9,647.6 L2306.0,638.8 L2309.0,646.3 L2312.3,614.8 L2316.1,637.5 L2318.6,651.4 L2321.6,624.9 L2325.4,606.0 L2328.7,660.2 L2332.5,628.7 L2335.7,671.6 L2338.8,628.7 L2341.8,637.5 L2345.1,688.0 L2348.9,618.6 L2352.6,633.7 L2356.4,632.5 L2360.2,635.0 L2364.0,633.2 L2369.0,633.7 L2374.1,633.7 L2377.9,633.7 L2381.2,667.8 L2384.7,633.7 L2388.0,636.2 L2391.8,640.0 L2394.8,636.2 L2398.1,636.2 L2401.9,626.2 L2404.9,617.3 L2408.2,637.5 L2411.4,631.7 L2414.5,634.2 L2417.5,642.6 L2420.8,638.8 L2424.6,638.8 L2427.6,541.6 L2430.1,580.7 L2432.1,621.1 L2434.7,635.0 L2438.4,635.0 L2442.2,628.7 L2444.2,629.9 L2447.3,609.8 L2450.5,637.5 L2454.3,629.9 L2457.4,632.5 L2461.1,635.0 L2464.4,627.4 L2468.0,632.5 L2472.0,631.2 L2476.3,629.9 L2480.6,628.7 L2483.1,529.0 L2487.1,695.5 L2489.6,648.9 L2490.7,645.1 L2492.6,638.8 L2493.2,638.8 L2496.4,671.6 L2496.5,671.6 L2499.7,618.6 L2503.2,637.5 L2506.5,628.7 L2510.3,631.2 L2515.3,632.5 L2519.1,626.2 L2522.4,630.7 L2525.9,623.1 L2530.0,630.7 L2534.2,633.7 L2536.8,638.8 L2539.3,654.4 L2542.6,646.3 L2545.6,651.4 L2548.6,635.0 L2551.9,677.9 L2555.7,679.1 L2559.5,677.9 L2562.8,681.7 L2565.5,738.0 L2568.8,636.2 L2572.9,637.5 L2575.9,642.6 L2579.7,653.9 L2582.2,661.5 L2585.5,682.2 L2589.0,681.7 L2592.3,641.3 L2595.6,652.6 L2598.6,684.2 L2602.4,665.3 L2605.7,664.0 L2608.7,652.6 L2611.7,682.9 L2615.0,692.3 L2618.3,688.0 L2621.3,640.0 L2624.8,563.1 L2628.4,646.3 L2631.4,635.0 L2634.4,638.8 L2637.7,653.9 L2641.5,656.4 L2645.3,668.5 L2648.5,646.3 L2651.6,647.6 L2654.9,640.0 L2657.9,646.3 L2661.2,641.3 L2664.2,595.9 L2668.0,618.6 L2671.3,636.2 L2674.3,602.2 L2678.1,635.0 L2681.5,730.0 L2684.4,659.0 L2687.4,671.6 L2690.7,656.4 L2694.5,659.0 L2697.0,689.7 L2700.8,685.4 L2704.1,700.6 L2708.3,636.2 L2711.6,633.7 L2714.7,651.4 L2717.7,664.0 L2721.0,641.3 L2723.5,704.4 L2727.3,635.0 L2731.1,635.0 L2734.3,641.3 L2737.4,637.5 L2740.4,624.9 L2743.7,635.0 L2747.5,640.0 L2750.5,653.9 L2753.8,632.5 L2756.4,981.5 L2762.3,647.2 L2764.6,645.8 L2765.7,639.1 L2769.2,635.2 L2769.2,636.7 L2776.1,636.4 L2776.1,634.4 L2782.9,632.9 L2783.0,634.4 L2786.4,635.2 L2789.8,632.9 L2789.9,633.0 L2793.9,637.5 L2796.7,639.0 L2799.0,642.6 L2802.2,651.3 L2802.4,651.8 L2805.9,652.9 L2805.9,652.7 L2809.3,646.0 L2812.8,639.8 L2812.8,641.3 L2815.5,657.5 L2817.4,664.2 L2819.2,667.4 L2821.9,739.8 L2822.4,741.2 L2826.1,678.1 L2827.9,664.2 L2829.3,664.4 L2832.9,642.6 L2833.4,643.6 L2835.7,738.9 L2835.7,737.5 L2838.7,672.9 L2838.9,673.4 L2841.7,714.6 L2842.1,716.4 L2845.3,641.4 L2846.2,641.3 L2848.3,641.4 L2849.5,641.3 L2851.8,693.0 L2854.0,668.8 L2855.2,651.8 L2858.2,674.7 L2862.1,724.0 L2865.1,645.3 L2868.3,648.3 L2871.9,649.0 L2875.4,666.7 L2878.6,651.8 L2882.0,728.6 L2885.0,655.2 L2888.5,638.0 L2891.9,643.7 L2895.3,646.7 L2898.1,646.7 L2901.1,633.4 L2904.1,638.5 L2906.8,638.5 L2910.3,641.4 L2913.7,642.1 L2917.1,637.5 L2920.6,636.8 L2924.7,642.6 L2928.1,634.6 L2930.9,640.3 L2934.3,685.0 L2937.8,640.3 L2941.2,635.2 L2944.7,636.8 L2948.1,646.0 L2950.9,698.8 L2953.8,654.1 L2957.3,648.3 L2960.7,639.1 L2964.2,683.9 L2967.1,639.1 L2970.6,655.2 L2973.9,787.6 L2976.8,657.5 L2980.2,664.4 L2983.7,638.0 L2988.2,636.8 L2990.5,635.7 L2993.5,680.4 L2997.4,665.5 L3000.4,655.2 L3003.6,626.5 L3006.6,632.9 L3010.0,677.0 L3013.5,656.3 L3016.5,655.9 L3020.4,600.1 L3023.8,638.0 L3027.2,635.7 L3030.2,635.7 L3033.4,895.5 L3036.4,659.8 L3039.4,641.4 L3042.6,635.7 L3048.6,634.6 L3051.3,633.4 L3053.6,647.6 L3057.1,637.5 L3060.5,636.8 L3062.8,633.4 L3063.4,632.9 L3069.2,632.3 L3069.7,632.3 L3072.6,638.5 L3073.1,638.0 L3076.1,633.4 L3076.1,633.9 L3079.5,635.2 L3082.9,634.6 L3086.4,640.3 L3089.4,624.7 L3092.6,654.1 L3095.6,641.4 L3099.0,630.7 L3102.4,632.9 L3105.9,639.8 L3109.3,630.0 L3112.8,649.0 L3116.2,637.5 L3119.6,641.4 L3123.1,624.2 L3125.8,671.3 L3129.3,635.2 L3132.3,635.7 L3135.2,651.8 L3139.1,647.2 L3142.1,639.1 L3145.3,635.2 L3148.3,640.3 L3151.8,681.6 L3155.2,639.1 L3158.2,676.5 L3161.4,640.3 L3165.1,644.4 L3169.0,658.6 L3171.7,711.4 L3174.7,654.1 L3178.1,696.5 L3181.6,639.1 L3185.0,635.2 L3188.5,638.0 L3191.9,640.7 L3195.3,638.0 L3198.1,647.6 L3201.1,639.8 L3204.5,638.5 L3210.3,637.5 L3213.7,639.8 L3217.8,641.4 L3221.7,639.1 L3224.7,641.4 L3227.9,646.0 L3230.3,910.8 L3234.3,660.9 L3237.8,646.0 L3241.2,639.1 L3244.0,676.5 L3247.0,628.8 L3249.9,651.3 L3253.8,640.3 L3257.3,631.6 L3260.7,646.7 L3264.2,637.5 L3267.6,639.8 L3271.0,641.4 L3274.5,643.0 L3277.5,638.0 L3280.7,659.8 L3283.7,619.2 L3287.1,640.3 L3289.8,663.7 L3293.5,654.1 L3297.4,650.6 L3300.4,649.9 L3303.6,635.2 L3307.3,639.1 L3310.0,646.0 L3313.5,704.5 L3316.5,669.6 L3319.7,636.8 L3323.3,636.8 L3326.6,640.3 L3330.2,639.1 L3333.4,637.5 L3337.1,637.5 L3339.9,616.2 L3343.3,653.6 L3346.7,637.5 L3350.2,636.8 L3353.6,641.4 L3355.9,697.6 L3359.4,699.5 L3362.8,681.6 L3365.2,828.2 L3370.7,672.3 L3376.2,661.3 L3384.5,642.0 L3388.4,666.8 L3392.8,653.0 L3395.5,683.3 L3399.4,661.3 L3403.8,664.1 L3408.2,680.6 L3412.0,1026.5 L3416.5,631.0 L3423.1,639.3 L3428.6,691.6 L3434.1,655.8 L3434.9,658.6 L3437.6,650.6 L3441.1,641.4 L3441.2,642.0 L3444.5,689.6 L3445.1,686.1 L3448.0,667.8 L3451.4,647.2 L3453.4,644.8 L3454.8,662.8 L3457.8,655.8 L3458.3,642.6 L3461.7,635.2 L3463.3,639.3 L3464.7,648.3 L3467.9,638.0 L3469.9,632.1 L3471.6,632.9 L3475.5,635.2 L3478.1,635.4 L3478.9,636.8 L3483.5,636.8 L3486.4,635.4 L3487.6,635.2 L3490.9,646.0 L3491.9,642.0 L3493.8,638.0 L3497.3,639.1 L3500.2,633.8 L3500.7,635.7 L3504.2,636.8 L3507.6,632.9 L3508.4,633.8 L3511.0,644.9 L3513.9,647.5 L3514.5,651.8 L3517.5,642.6 L3520.7,653.6 L3523.7,639.1 L3527.1,687.3 L3530.5,640.3 L3533.5,650.6 L3537.4,640.3 L3540.4,640.7 L3543.9,766.0 L3547.3,665.5 L3550.5,642.6 L3553.5,675.8 L3556.9,641.4 L3560.4,638.0 L3563.3,638.0 L3567.2,626.1 L3570.0,743.0 L3573.4,636.8 L3577.1,636.2 L3580.3,641.4 L3584.0,656.3 L3587.9,636.8 L3589.5,636.2" fill="none" stroke="#ff5b5b" stroke-width="3" stroke-linejoin="miter" stroke-miterlimit="10"/>
<path d="M0.0,634.5 L4.6,635.7 L10.3,640.3 L13.8,636.8 L17.2,638.0 L19.5,634.5 L22.9,637.5 L27.5,635.2 L29.8,633.9 L32.1,609.3 L34.4,611.6 L39.0,592.1 L42.4,597.8 L47.0,602.4 L49.3,609.3 L52.8,624.2 L56.2,618.5 L59.6,626.5 L63.1,635.7 L66.5,636.8 L68.8,639.1 L73.4,643.7 L75.7,642.6 L80.3,647.2 L84.9,651.7 L88.3,660.9 L91.7,681.6 L95.2,694.2 L98.6,686.1 L102.1,677.0 L105.5,677.4 L108.9,685.0 L112.4,687.3 L114.7,680.4 L118.1,681.6 L121.6,687.3 L125.0,711.4 L128.0,673.5 L130.7,685.0 L134.2,702.2 L138.1,727.4 L142.2,716.0 L146.8,710.2 L151.4,718.3 L154.8,703.3 L158.3,704.5 L164.0,705.2 L168.6,711.4 L170.9,697.6 L174.3,699.9 L177.8,693.0 L181.2,711.4 L183.5,691.9 L188.1,685.0 L190.4,695.3 L194.5,694.2 L196.8,672.4 L200.0,652.9 L204.1,649.4 L207.6,640.3 L210.6,632.2 L213.8,641.4 L217.9,638.0 L221.3,635.7 L223.6,624.2 L227.1,628.8 L230.5,615.0 L233.9,625.4 L238.5,628.8 L243.1,633.4 L246.6,638.0 L250.0,667.8 L253.4,691.9 L255.7,690.7 L260.3,696.5 L263.8,695.3 L267.2,690.3 L270.6,696.5 L274.1,691.2 L277.5,691.9 L280.3,695.3 L283.3,693.5 L286.7,697.6 L290.1,701.5 L293.6,699.9 L297.0,700.4 L299.3,718.3 L305.0,716.0 L309.6,721.7 L313.1,717.8 L316.5,713.7 L319.3,705.6 L322.9,714.8 L325.7,708.6 L329.1,720.6 L332.6,726.3 L336.0,743.0 L341.7,720.6 L346.3,722.8 L349.8,722.4 L353.2,729.7 L356.0,729.3 L358.9,663.2 L362.4,651.7 L367.0,640.3 L370.4,635.7 L374.4,602.4 L376.3,577.6 L378.0,541.8 L385.4,574.9 L390.9,533.6 L396.4,528.1 L400.6,519.8 L404.7,518.4 L408.3,512.9 L411.6,501.9 L413.6,499.5 L417.0,498.4 L419.3,488.1 L421.6,470.9 L425.0,460.6 L428.5,468.6 L431.5,456.0 L434.2,429.6 L437.7,425.7 L441.1,407.8 L444.5,386.7 L448.0,398.6 L451.4,414.7 L454.4,404.4 L458.3,398.6 L461.3,431.9 L464.5,405.5 L468.2,384.9 L470.9,361.9 L473.7,320.6 L477.3,344.7 L481.2,319.5 L484.2,368.8 L488.1,375.7 L490.9,366.5 L493.9,378.0 L497.3,388.3 L500.3,417.0 L504.2,413.5 L507.2,356.2 L509.9,422.7 L513.3,405.5 L516.8,395.2 L520.9,388.3 L524.1,400.9 L527.1,450.2 L530.1,413.5 L533.3,464.0 L537.0,444.5 L540.2,474.3 L543.2,436.5 L546.6,480.0 L550.0,468.6 L553.5,449.1 L556.9,415.8 L559.9,446.8 L563.1,397.5 L566.8,431.9 L570.0,410.1 L573.7,435.3 L576.4,458.3 L579.9,423.9 L582.8,437.6 L586.1,451.4 L589.7,444.5 L592.9,456.0 L596.6,439.9 L599.8,425.0 L602.8,460.6 L606.2,414.7 L609.7,432.6 L612.7,386.0 L615.9,421.6 L618.9,434.2 L622.3,430.3 L625.7,444.0 L629.2,432.6 L632.6,437.6 L636.1,445.6 L639.5,437.6 L642.9,442.2 L645.7,425.0 L648.7,461.7 L652.1,456.0 L655.6,449.1 L659.0,425.0 L663.6,396.3 L666.3,364.2 L668.6,336.7 L672.3,332.1 L676.2,327.5 L679.2,328.7 L682.4,339.0 L686.1,355.0 L688.8,370.0 L692.2,349.3 L694.5,340.1 L698.0,337.8 L701.4,334.4 L704.9,275.0 L707.9,310.6 L711.1,318.6 L714.8,303.2 L718.0,304.8 L721.0,331.2 L723.9,349.5 L726.7,343.8 L730.8,331.2 L734.0,330.0 L738.2,311.7 L741.6,283.0 L744.6,254.4 L747.8,285.3 L751.5,312.8 L754.2,295.6 L757.7,315.1 L762.9,357.6 L766.8,359.2 L771.4,338.1 L774.4,323.2 L777.2,301.4 L780.6,288.8 L783.6,245.2 L786.8,234.9 L790.2,200.5 L793.7,230.3 L797.3,238.3 L800.6,217.7 L803.5,258.9 L807.0,244.0 L809.7,241.3 L813.9,234.9 L816.6,261.2 L820.3,232.6 L823.0,217.7 L826.5,237.2 L830.4,234.4 L833.3,208.5 L836.3,183.9 L839.5,210.8 L842.5,199.3 L846.0,192.4 L849.4,186.7 L853.3,184.9 L857.0,186.7 L859.7,194.7 L862.5,174.8 L865.5,184.4 L868.9,184.9 L872.3,192.4 L876.2,201.6 L879.2,237.2 L882.2,191.3 L885.4,233.7 L888.4,213.1 L892.3,213.1 L895.3,225.7 L898.7,225.7 L901.5,246.8 L905.6,242.9 L909.0,222.2 L912.5,200.5 L915.9,182.1 L919.4,176.4 L921.8,136.5 L925.2,126.1 L928.7,129.6 L932.1,132.6 L935.6,122.7 L938.5,84.9 L941.7,110.1 L945.4,137.6 L948.9,157.1 L951.6,100.5 L955.0,105.5 L959.2,125.0 L961.9,68.8 L964.9,20.6 L967.7,59.6 L971.1,63.1 L975.2,67.0 L978.0,60.8 L981.4,58.5 L984.4,53.9 L987.8,60.8 L991.3,65.4 L995.2,68.8 L998.6,73.4 L1001.4,63.1 L1004.8,67.7 L1007.8,55.0 L1011.2,91.7 L1014.2,92.9 L1017.4,121.6 L1020.4,139.9 L1023.9,150.2 L1027.3,181.2 L1030.7,195.0 L1033.7,175.5 L1037.6,163.3 L1037.6,164.0 L1040.7,243.1 L1044.2,218.3 L1047.3,218.0 L1051.2,203.0 L1054.2,209.6 L1057.0,182.0 L1060.1,147.9 L1063.3,144.5 L1067.0,133.0 L1069.7,79.1 L1073.2,102.1 L1076.6,99.8 L1080.0,71.1 L1083.0,122.7 L1086.2,112.4 L1089.9,86.0 L1093.1,109.6 L1096.3,100.9 L1100.0,114.7 L1103.0,96.3 L1106.4,99.8 L1109.9,99.8 L1113.3,92.9 L1116.1,106.7 L1119.0,107.8 L1122.5,122.7 L1125.9,118.1 L1129.4,113.5 L1132.8,130.7 L1136.2,115.8 L1139.7,106.7 L1142.7,102.1 L1145.9,82.6 L1148.9,87.2 L1152.3,70.0 L1155.7,103.2 L1159.2,86.0 L1161.9,37.8 L1165.6,74.5 L1168.8,42.4 L1172.5,68.8 L1175.7,61.9 L1179.4,96.3 L1182.1,84.4 L1185.6,108.9 L1188.5,125.0 L1192.4,127.3 L1195.9,111.2 L1199.3,119.3 L1202.3,151.4 L1204.4,232.5 L1208.9,205.0 L1214.8,184.4 L1218.2,232.5 L1221.6,303.1 L1227.1,309.9 L1231.3,320.2 L1234.7,432.0 L1238.2,325.4 L1241.6,282.4 L1248.5,289.3 L1251.9,253.2 L1256.0,297.9 L1258.8,322.0 L1262.9,339.2 L1267.4,337.4 L1270.8,351.2 L1274.3,313.4 L1277.7,351.2 L1281.1,390.8 L1284.6,370.1 L1288.0,330.6 L1291.5,363.2 L1294.9,337.4 L1298.3,365.0 L1301.8,328.8 L1304.2,304.8 L1307.6,323.7 L1313.8,311.0 L1317.3,273.8 L1320.7,291.0 L1324.1,275.5 L1327.6,284.1 L1330.3,279.0 L1334.5,280.7 L1337.9,285.9 L1343.1,273.8 L1346.5,287.6 L1349.9,301.3 L1353.4,328.8 L1356.8,340.9 L1362.0,345.4 L1366.1,323.7 L1370.6,358.1 L1374.0,311.7 L1377.4,354.6 L1380.9,337.4 L1384.3,347.8 L1387.8,339.2 L1391.2,346.7 L1394.6,334.0 L1398.1,332.3 L1401.5,318.5 L1405.0,316.8 L1407.7,328.2 L1410.8,315.8 L1414.2,318.5 L1418.7,332.3 L1423.2,337.4 L1426.6,315.1 L1430.1,308.9 L1433.5,309.9 L1436.3,349.5 L1439.4,311.7 L1442.8,330.6 L1446.2,344.3 L1450.7,334.0 L1455.5,307.5 L1459.0,337.4 L1462.4,344.3 L1465.8,337.4 L1470.3,343.3 L1473.7,342.6 L1478.2,338.5 L1482.3,328.8 L1487.5,311.7 L1492.0,287.6 L1496.8,289.3 L1500.2,288.3 L1503.7,294.5 L1506.4,285.9 L1509.2,304.8 L1512.6,291.0 L1516.1,241.1 L1518.5,221.5 L1522.9,229.8 L1527.1,232.5 L1530.5,231.9 L1535.7,227.4 L1541.5,205.0 L1546.0,217.1 L1549.4,218.8 L1551.8,227.4 L1555.3,218.1 L1561.5,217.1 L1564.9,203.3 L1568.3,210.2 L1571.1,208.5 L1574.1,184.1 L1574.5,184.4 L1578.0,193.0 L1578.6,192.7 L1583.8,194.4 L1583.8,194.7 L1587.2,199.9 L1587.9,204.7 L1591.3,216.7 L1593.4,287.3 L1596.8,319.9 L1600.3,323.4 L1603.7,332.0 L1608.5,336.1 L1613.0,340.6 L1616.4,371.5 L1619.9,347.4 L1623.3,348.5 L1626.7,362.9 L1631.2,354.3 L1633.6,347.4 L1637.1,388.7 L1640.5,392.2 L1646.4,359.5 L1649.8,354.3 L1652.5,383.6 L1656.0,357.8 L1658.7,368.1 L1662.9,383.6 L1666.3,385.3 L1669.7,369.1 L1673.2,370.5 L1677.3,368.1 L1680.1,365.7 L1683.5,366.4 L1686.9,375.0 L1689.7,379.4 L1693.1,364.6 L1697.3,368.1 L1700.7,375.0 L1704.1,388.7 L1706.9,404.2 L1708.5,462.0 L1712.5,463.0 L1715.7,483.0 L1718.6,426.6 L1721.3,418.0 L1725.5,411.1 L1729.2,392.2 L1732.3,399.0 L1736.8,393.2 L1742.0,387.7 L1746.1,387.0 L1748.8,406.9 L1752.3,352.6 L1755.7,299.3 L1759.2,294.1 L1762.6,333.7 L1766.0,323.4 L1769.5,338.8 L1772.9,351.9 L1775.7,340.6 L1778.4,357.8 L1781.5,333.7 L1785.0,327.8 L1788.4,307.2 L1791.8,307.2 L1795.3,301.0 L1798.7,278.7 L1802.2,314.8 L1805.6,364.6 L1809.0,356.0 L1812.5,352.6 L1814.9,362.9 L1818.3,354.3 L1821.1,338.8 L1824.5,366.4 L1827.3,426.6 L1830.7,321.7 L1834.1,307.9 L1837.6,395.6 L1841.0,375.0 L1844.5,325.8 L1847.9,326.8 L1851.3,347.4 L1854.8,337.1 L1858.2,368.1 L1861.7,376.7 L1865.1,380.1 L1868.5,355.4 L1872.0,362.9 L1874.4,345.7 L1878.9,346.4 L1881.3,345.7 L1883.7,364.6 L1887.1,347.4 L1890.6,364.6 L1894.0,373.2 L1897.4,383.6 L1900.9,391.1 L1904.3,388.7 L1907.7,397.3 L1911.2,376.7 L1913.9,400.1 L1916.7,334.7 L1920.1,362.9 L1923.6,321.7 L1927.0,314.8 L1930.4,324.4 L1933.9,328.5 L1937.3,355.4 L1941.5,362.9 L1945.6,352.6 L1950.1,341.6 L1953.0,342.1 L1954.5,342.3 L1956.3,352.2 L1956.9,350.9 L1959.6,342.1 L1960.4,342.3 L1962.6,342.1 L1963.8,342.3 L1965.6,354.0 L1966.2,352.6 L1969.7,350.9 L1973.2,337.8 L1975.7,383.7 L1979.0,406.4 L1982.3,451.9 L1986.6,460.7 L1989.1,416.5 L1992.4,451.9 L1995.4,409.0 L1998.4,394.3 L2001.7,400.1 L2005.0,405.2 L2008.5,407.7 L2011.8,424.1 L2015.6,458.2 L2018.6,436.7 L2021.9,416.5 L2025.2,430.4 L2028.7,445.5 L2032.0,430.4 L2035.3,439.2 L2038.3,402.6 L2041.3,405.2 L2044.6,391.3 L2047.9,376.2 L2051.4,370.6 L2054.7,379.9 L2058.5,387.5 L2061.5,383.2 L2064.8,348.4 L2068.1,309.3 L2071.6,344.6 L2074.9,357.2 L2078.2,363.5 L2081.2,366.6 L2084.2,379.9 L2087.5,378.2 L2090.8,401.4 L2093.8,431.7 L2097.6,449.3 L2100.9,441.8 L2104.4,458.2 L2107.7,449.3 L2112.1,532.4 L2116.9,681.8 L2120.2,644.9 L2123.4,665.8 L2128.2,609.6 L2131.4,574.2 L2134.6,536.3 L2137.8,574.2 L2140.4,612.8 L2143.6,583.9 L2146.8,572.6 L2150.0,573.6 L2153.9,595.1 L2157.1,603.8 L2160.3,583.9 L2164.2,566.2 L2166.7,580.6 L2171.6,577.4 L2175.7,569.4 L2180.2,554.3 L2183.5,563.0 L2186.7,611.2 L2190.8,615.3 L2194.1,616.0 L2197.3,605.7 L2200.5,604.7 L2203.7,582.2 L2206.9,601.5 L2210.1,625.6 L2213.3,641.7 L2216.5,634.6 L2219.8,641.7 L2223.9,644.9 L2227.8,640.1 L2232.6,636.9 L2236.8,619.2 L2239.1,627.4 L2242.9,629.9 L2246.7,632.5 L2249.2,643.3 L2253.0,642.6 L2256.8,642.6 L2260.6,636.2 L2264.3,630.7 L2268.1,628.7 L2270.6,623.6 L2274.4,627.4 L2278.2,606.0 L2282.0,607.2 L2285.8,631.2 L2288.3,657.7 L2292.1,652.6 L2295.9,658.5 L2299.7,645.1 L2303.4,643.8 L2306.0,652.6 L2308.5,626.2 L2312.3,595.9 L2316.1,592.1 L2319.8,621.1 L2323.6,626.2 L2327.4,618.6 L2331.2,621.1 L2335.0,602.2 L2338.8,609.8 L2341.3,617.3 L2345.1,597.1 L2348.9,595.4 L2352.6,600.9 L2355.2,600.9 L2358.5,611.0 L2361.5,608.5 L2365.3,617.3 L2369.0,614.8 L2372.8,614.8 L2376.6,614.3 L2381.2,606.5 L2384.7,613.5 L2388.0,619.8 L2391.8,628.2 L2395.5,623.6 L2398.8,619.8 L2401.9,588.3 L2405.6,589.6 L2408.2,606.0 L2411.4,592.1 L2414.5,608.5 L2417.5,624.9 L2420.8,620.6 L2424.6,622.4 L2427.1,642.6 L2430.1,629.9 L2433.4,618.6 L2437.2,611.0 L2441.0,599.7 L2444.2,611.0 L2448.5,606.0 L2451.1,604.7 L2454.3,592.9 L2457.4,596.6 L2461.1,594.6 L2463.7,602.9 L2466.9,590.3 L2470.0,594.6 L2473.8,594.6 L2477.5,587.0 L2480.6,573.2 L2483.1,561.8 L2485.1,606.0 L2487.6,632.5 L2491.4,626.2 L2495.7,619.8 L2496.4,617.3 L2502.7,577.0 L2507.8,583.3 L2510.3,584.5 L2513.3,589.6 L2515.8,553.0 L2519.1,565.6 L2522.9,580.7 L2526.7,566.9 L2530.0,556.8 L2532.5,600.9 L2535.5,601.4 L2540.0,618.3 L2546.9,645.8 L2550.1,691.7 L2552.8,694.0 L2556.0,749.0 L2559.3,721.5 L2562.0,737.5 L2565.2,698.6 L2569.8,700.9 L2575.8,705.4 L2581.3,723.8 L2585.8,788.0 L2589.5,769.6 L2592.7,767.3 L2595.9,755.0 L2600.5,765.0 L2604.2,783.4 L2607.9,776.5 L2612.4,845.3 L2615.6,865.9 L2618.9,854.4 L2622.5,813.2 L2627.1,808.6 L2630.8,794.8 L2634.0,810.9 L2638.6,831.5 L2641.8,833.8 L2645.4,813.2 L2650.0,815.5 L2654.6,812.3 L2658.3,806.3 L2661.5,808.6 L2666.1,698.6 L2669.3,684.8 L2673.0,728.4 L2677.5,751.3 L2681.2,783.4 L2684.4,849.9 L2687.6,847.6 L2691.3,874.2 L2695.9,874.2 L2698.2,865.9 L2701.4,881.9 L2705.0,836.1 L2710.5,835.2 L2714.2,820.1 L2717.9,815.5 L2721.1,826.9 L2725.7,808.6 L2730.3,788.0 L2736.2,782.5 L2739.4,797.1 L2744.0,820.1 L2747.2,822.3 L2750.9,849.9 L2754.6,826.9 L2761.0,820.1 L2765.6,848.5 L2771.5,848.5 L2776.1,849.9 L2783.0,810.9 L2787.6,822.3 L2793.1,829.2 L2796.7,840.7 L2801.3,870.5 L2805.9,902.6 L2809.6,881.9 L2812.8,875.1 L2816.0,851.2 L2819.7,902.6 L2823.3,964.5 L2828.8,966.8 L2833.4,948.4 L2838.0,941.5 L2842.6,926.4 L2846.2,941.5 L2849.5,966.8 L2852.7,943.8 L2856.3,941.5 L2858.8,964.6 L2861.8,956.6 L2865.2,945.1 L2868.7,954.3 L2872.1,961.2 L2874.9,950.9 L2877.8,961.2 L2881.7,970.8 L2884.7,966.9 L2888.2,955.5 L2891.6,950.9 L2895.0,948.6 L2898.5,941.7 L2901.5,934.1 L2904.7,947.4 L2907.7,941.7 L2911.1,943.3 L2914.5,937.8 L2918.0,934.8 L2921.4,934.1 L2924.9,934.1 L2928.3,937.8 L2931.7,939.4 L2934.0,963.5 L2937.5,952.0 L2940.5,958.9 L2944.4,954.3 L2947.8,945.6 L2951.2,949.7 L2954.7,945.6 L2958.1,940.6 L2960.4,931.4 L2963.9,939.4 L2967.3,950.9 L2970.3,947.9 L2973.5,954.3 L2977.6,958.4 L2980.4,947.4 L2983.3,937.1 L2986.8,934.8 L2990.2,936.4 L2993.2,895.8 L2997.1,883.2 L3000.6,897.0 L3003.5,879.8 L3007.0,899.3 L3010.2,903.9 L3013.9,911.9 L3017.1,918.1 L3020.7,917.6 L3023.5,915.8 L3026.9,917.6 L3030.4,919.4 L3033.8,924.5 L3036.8,931.4 L3039.5,918.8 L3043.0,923.3 L3046.0,913.5 L3049.9,914.2 L3053.3,911.9 L3056.7,912.6 L3060.2,909.6 L3062.9,917.6 L3065.9,905.0 L3069.4,903.4 L3072.8,905.7 L3076.2,905.0 L3079.7,908.9 L3083.1,906.1 L3086.6,902.7 L3089.5,877.5 L3092.3,867.2 L3095.7,869.4 L3099.2,869.4 L3102.6,876.3 L3106.1,890.6 L3109.5,884.4 L3112.5,878.2 L3115.2,879.8 L3118.7,874.5 L3122.1,878.6 L3125.6,887.3 L3128.5,878.2 L3132.4,878.6 L3135.4,902.7 L3138.6,906.6 L3142.3,903.9 L3145.0,894.2 L3148.5,897.0 L3151.9,902.7 L3155.4,905.0 L3158.8,905.0 L3162.2,906.6 L3165.7,908.4 L3168.4,947.4 L3171.4,949.3 L3174.9,961.2 L3178.3,960.7 L3181.7,952.0 L3184.5,949.7 L3188.2,958.9 L3190.9,975.0 L3195.0,977.2 L3198.6,983.6 L3203.2,979.9 L3207.9,976.8 L3211.0,979.0 L3214.7,986.1 L3218.7,987.3 L3223.3,992.3 L3227.1,994.4 L3230.2,985.2 L3234.2,972.8 L3238.2,979.9 L3241.9,983.0 L3245.6,975.9 L3248.7,968.7 L3251.8,966.6 L3254.3,939.6 L3258.0,946.4 L3261.1,948.0 L3264.2,958.2 L3267.3,965.0 L3270.4,963.5 L3273.5,951.1 L3277.5,942.7 L3279.7,999.1 L3283.7,982.1 L3286.8,986.7 L3290.9,996.0 L3293.9,1002.2 L3297.0,997.5 L3300.1,983.6 L3303.2,996.6 L3306.3,983.0 L3310.0,999.7 L3313.8,992.3 L3317.8,987.3 L3320.9,986.1 L3324.0,988.2 L3328.0,988.2 L3331.1,991.3 L3333.3,999.7 L3336.4,999.7 L3339.5,989.8 L3342.6,989.2 L3346.6,992.9 L3350.3,998.5 L3353.4,1009.9 L3355.9,1068.8 L3359.6,1088.9 L3362.7,1101.3 L3365.8,1142.1 L3368.9,1130.7 L3372.6,1095.7 L3376.6,1098.2 L3379.7,1093.5 L3382.8,1085.2 L3385.9,1092.0 L3389.0,1082.7 L3392.1,1105.9 L3395.2,1132.2 L3398.3,1130.7 L3402.3,1156.1 L3405.4,1122.9 L3409.1,1143.1 L3412.2,1124.5 L3415.3,1059.5 L3419.0,1046.2 L3421.5,1070.3 L3425.2,1077.1 L3429.3,1082.7 L3432.4,1116.7 L3435.5,1109.9 L3438.6,1110.6 L3441.6,1102.8 L3444.7,1096.6 L3448.8,1095.1 L3451.9,1092.0 L3456.2,1091.4 L3459.3,1090.4 L3461.8,1095.7 L3464.9,1085.8 L3468.6,1079.6 L3471.1,1052.3 L3474.8,1059.5 L3477.9,1058.5 L3481.0,1066.6 L3485.0,1070.9 L3488.1,1076.5 L3492.1,1082.7 L3495.8,1082.1 L3498.9,1078.0 L3502.0,1065.7 L3505.1,1062.6 L3507.6,1041.8 L3510.7,1065.7 L3513.8,1063.5 L3517.5,1067.8 L3520.6,1061.6 L3524.3,1058.5 L3528.3,1064.7 L3532.4,1070.3 L3536.1,1077.1 L3539.2,1081.1 L3540.7,1079.6 L3543.8,1090.4 L3546.9,1083.3 L3551.0,1081.1 L3554.7,1080.2 L3557.1,1085.8 L3560.2,1083.3 L3564.0,1076.5 L3567.7,1080.2 L3571.7,1084.2 L3576.3,1084.2 L3581.0,1084.2 L3584.1,1082.7 L3587.2,1080.2 L3590.3,1083.3" fill="none" stroke="#26c953" stroke-width="3" stroke-linejoin="miter" stroke-miterlimit="10"/>
<rect x="3639" y="14" width="2" height="1147" fill="#26c953"/>
<rect x="3739" y="14" width="2" height="1147" fill="#ff5b5b"/>
<text x="3651.7" y="20.2" font-family="Liberation Sans" font-size="20" fill="#9faac4">4114</text>
<text x="3651.7" y="163.4" font-family="Liberation Sans" font-size="20" fill="#9faac4">3775</text>
<text x="3651.7" y="306.7" font-family="Liberation Sans" font-size="20" fill="#9faac4">3436</text>
<text x="3651.7" y="450.0" font-family="Liberation Sans" font-size="20" fill="#9faac4">3097</text>
<text x="3651.7" y="593.2" font-family="Liberation Sans" font-size="20" fill="#9faac4">2759</text>
<text x="3651.7" y="736.5" font-family="Liberation Sans" font-size="20" fill="#9faac4">2420</text>
<text x="3651.7" y="879.7" font-family="Liberation Sans" font-size="20" fill="#9faac4">2081</text>
<text x="3651.7" y="1023.0" font-family="Liberation Sans" font-size="20" fill="#9faac4">1742</text>
<text x="3651.7" y="1166.2" font-family="Liberation Sans" font-size="20" fill="#9faac4">1403</text>
<text x="3751.4" y="20.1" font-family="Liberation Sans" font-size="20" fill="#9faac4">738.37M</text>
<text x="3751.4" y="175.1" font-family="Liberation Sans" font-size="20" fill="#9faac4">553.78M</text>
<text x="3751.4" y="330.1" font-family="Liberation Sans" font-size="20" fill="#9faac4">369.18M</text>
<text x="3751.4" y="485.1" font-family="Liberation Sans" font-size="20" fill="#9faac4">184.59M</text>
<text x="3751.4" y="816.1" font-family="Liberation Sans" font-size="20" fill="#9faac4">-208.72M</text>
<text x="3751.4" y="991.4" font-family="Liberation Sans" font-size="20" fill="#9faac4">-417.45M</text>
<text x="3751.4" y="1166.1" font-family="Liberation Sans" font-size="20" fill="#9faac4">-626.18M</text>
<rect x="3746" y="622" width="74" height="26" fill="#ff5b5b"/>
<text x="3783" y="642.2" text-anchor="middle" font-family="Liberation Sans" font-size="20" fill="#fff">-2.32M</text>
<rect x="3646" y="1070" width="56.5" height="26" fill="#26c953"/>
<text x="3674.2" y="1090.2" text-anchor="middle" font-family="Liberation Sans" font-size="20" fill="#fff">1583</text>
<text x="10.5" y="1186.2" font-family="Liberation Sans" font-size="20" fill="#9faac4">18 Oct 24</text>
<text x="299.7" y="1186.2" text-anchor="middle" font-family="Liberation Sans" font-size="20" fill="#9faac4">03 Nov 24</text>
<text x="599.4" y="1186.2" text-anchor="middle" font-family="Liberation Sans" font-size="20" fill="#9faac4">18 Nov 24</text>
<text x="899.1" y="1186.2" text-anchor="middle" font-family="Liberation Sans" font-size="20" fill="#9faac4">03 Dec 24</text>
<text x="1198.8" y="1186.2" text-anchor="middle" font-family="Liberation Sans" font-size="20" fill="#9faac4">18 Dec 24</text>
<text x="1498.5" y="1186.2" text-anchor="middle" font-family="Liberation Sans" font-size="20" fill="#9faac4">02 Jan 25</text>
<text x="1798.2" y="1186.2" text-anchor="middle" font-family="Liberation Sans" font-size="20" fill="#9faac4">17 Jan 25</text>
<text x="2097.9" y="1186.2" text-anchor="middle" font-family="Liberation Sans" font-size="20" fill="#9faac4">02 Feb 25</text>
<text x="2397.6" y="1186.2" text-anchor="middle" font-family="Liberation Sans" font-size="20" fill="#9faac4">17 Feb 25</text>
<text x="2697.3" y="1186.2" text-anchor="middle" font-family="Liberation Sans" font-size="20" fill="#9faac4">04 Mar 25</text>
<text x="2997.0" y="1186.2" text-anchor="middle" font-family="Liberation Sans" font-size="20" fill="#9faac4">19 Mar 25</text>
<text x="3296.7" y="1186.2" text-anchor="middle" font-family="Liberation Sans" font-size="20" fill="#9faac4">03 Apr 25</text>
<text x="3629.7" y="1186.2" text-anchor="middle" font-family="Liberation Sans" font-size="20" fill="#9faac4">18 Apr 25</text>
<rect x="1573" y="1242" width="18" height="18" fill="#26c953"/>
<text x="1600" y="1260" font-family="Liberation Sans" font-size="28" fill="#1b1f33">Price (ETH)</text>
<rect x="1785" y="1242" width="18" height="18" fill="#ff5b5b"/>
<text x="1812" y="1260" font-family="Liberation Sans" font-size="28" fill="#1b1f33" textLength="455" lengthAdjust="spacingAndGlyphs">Network Realized Profit/Loss (ETH)</text>
</svg>
</body></html>
